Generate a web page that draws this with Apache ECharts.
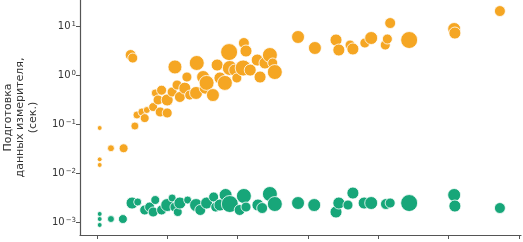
<!DOCTYPE html>
<html>
<head>
<meta charset="utf-8">
<script src="https://cdn.jsdelivr.net/npm/echarts@6/dist/echarts.min.js"></script>
<style>
  html, body { margin: 0; padding: 0; background: #fff; }
  #chart { width: 523px; height: 242px; }
</style>
</head>
<body>
<div id="chart"></div>
<script>
// orange series: x, time (s), bubble area
const orangeX = [0.04, 0.20, 0.38, 0.04, 0.04, 0.48, 0.51, 0.54, 0.57, 0.64, 0.68, 0.71, 0.80, 0.83, 0.87, 0.90, 0.92, 1.00, 1.00, 1.07, 1.11, 1.14, 1.18, 1.25, 1.28, 1.32, 1.41, 1.42, 1.51, 1.54, 1.56, 1.65, 1.71, 1.75, 1.82, 1.88, 1.89, 1.96, 1.99, 2.08, 2.09, 2.12, 2.18, 2.28, 2.32, 2.39, 2.46, 2.50, 2.53, 2.86, 3.10, 3.40, 3.44, 3.60, 3.64, 3.81, 3.90, 4.10, 4.13, 4.17, 4.44, 5.08, 5.09, 5.73];
const orangeY = [0.083, 0.032, 0.032, 0.019, 0.0146, 2.56, 2.22, 0.091, 0.153, 0.176, 0.132, 0.193, 0.222, 0.43, 0.31, 0.176, 0.49, 0.168, 0.31, 0.45, 1.46, 0.625, 0.356, 0.54, 0.91, 0.39, 0.43, 1.76, 0.91, 0.54, 0.69, 0.39, 1.60, 0.87, 0.69, 2.94, 1.39, 1.26, 0.87, 1.39, 4.5, 3.09, 1.26, 2.02, 0.91, 1.76, 2.56, 1.76, 1.15, 5.97, 3.56, 5.18, 3.24, 4.09, 3.40, 4.5, 5.69, 4.09, 5.43, 11.5, 5.18, 8.69, 7.19, 20.2];
const orangeS = [6, 12, 20, 6, 6, 30, 25, 16, 16, 16, 20, 12, 20, 16, 25, 25, 25, 25, 36, 25, 49, 25, 30, 36, 25, 25, 42, 56, 42, 36, 56, 42, 36, 36, 56, 72, 56, 36, 25, 64, 30, 36, 36, 36, 36, 36, 56, 25, 56, 42, 42, 36, 36, 25, 36, 25, 42, 25, 25, 30, 72, 42, 36, 30];

// green series
const greenX = [0.04, 0.04, 0.04, 0.20, 0.37, 0.50, 0.58, 0.68, 0.75, 0.80, 0.83, 0.92, 1.00, 1.07, 1.11, 1.15, 1.18, 1.29, 1.41, 1.47, 1.56, 1.66, 1.69, 1.75, 1.83, 1.89, 2.03, 2.09, 2.12, 2.29, 2.35, 2.46, 2.53, 2.86, 3.09, 3.40, 3.44, 3.57, 3.64, 3.80, 3.90, 4.11, 4.17, 4.44, 5.08, 5.09, 5.73];
const greenY = [0.00146, 0.00115, 0.00087, 0.00115, 0.00115, 0.00244, 0.00256, 0.00176, 0.00202, 0.0016, 0.00281, 0.00176, 0.00222, 0.00309, 0.00202, 0.0016, 0.00244, 0.00281, 0.00222, 0.00176, 0.00244, 0.00324, 0.00202, 0.00222, 0.00356, 0.00233, 0.00176, 0.0034, 0.00202, 0.00222, 0.00193, 0.00373, 0.00233, 0.00244, 0.00222, 0.0016, 0.00244, 0.00222, 0.0039, 0.00244, 0.00244, 0.00233, 0.00244, 0.00244, 0.00356, 0.00212, 0.00193];
const greenS = [6, 6, 6, 12, 20, 36, 16, 25, 25, 25, 20, 25, 42, 16, 25, 20, 36, 16, 42, 30, 36, 25, 25, 36, 42, 72, 30, 56, 25, 36, 30, 56, 56, 42, 42, 36, 36, 25, 36, 36, 42, 30, 25, 72, 42, 36, 30];

const xTicks = [0, 1, 2, 3, 4, 5, 6];
const yTicks = [0.001, 0.01, 0.1, 1, 10];

const zip = (xs, ys, ss) => xs.map((x, i) => [x, ys[i], ss[i]]);
const axisColor = '#555';

const chart = echarts.init(document.getElementById('chart'));
const bubble = (name, data, color) => ({
    name,
    type: 'scatter',
    data,
    symbolSize: (d) => 2 * Math.sqrt(d[2]),
    itemStyle: { color, opacity: 1, borderColor: '#fff', borderWidth: 0.8 },
    emphasis: { disabled: true }
});

chart.setOption({
    animation: false,
    grid: { left: 80, right: 2, top: 0, bottom: 7, outerBoundsMode: 'none', containLabel: false },
    xAxis: {
        type: 'value',
        min: -0.24,
        max: 6.03,
        splitLine: { show: false },
        axisLine: { onZero: false, lineStyle: { color: axisColor, width: 1.2 } },
        axisTick: { show: true, length: 4, customValues: xTicks, lineStyle: { color: axisColor, width: 1 } },
        axisLabel: { show: false }
    },
    yAxis: {
        type: 'log',
        min: Math.pow(10, -3.265),
        max: Math.pow(10, 1.531),
        name: 'Подготовка\nданных измерителя,\n(сек.)',
        nameLocation: 'middle',
        nameGap: 41,
        nameTextStyle: { fontFamily: 'DejaVu Sans', fontSize: 11, color: '#333', lineHeight: 12.5 },
        splitLine: { show: false },
        axisLine: { show: true, onZero: false, lineStyle: { color: axisColor, width: 1.2 } },
        axisTick: { show: true, length: 4, customValues: yTicks, lineStyle: { color: axisColor, width: 1 } },
        axisLabel: {
            customValues: yTicks,
            margin: 4,
            formatter: (v) => {
                const e = Math.round(Math.log10(v));
                return '{b|10}{e|' + String(e).replace('-', '\u2212') + '}';
            },
            rich: {
                b: { fontFamily: 'DejaVu Sans', fontSize: 10, color: '#333' },
                e: { fontFamily: 'DejaVu Sans', fontSize: 7, color: '#333', verticalAlign: 'top', padding: [0, 0, 0, 1] }
            }
        }
    },
    series: [
        bubble('green', zip(greenX, greenY, greenS), '#17A679'),
        bubble('orange', zip(orangeX, orangeY, orangeS), '#F5A623')
    ]
});
</script>
</body>
</html>
